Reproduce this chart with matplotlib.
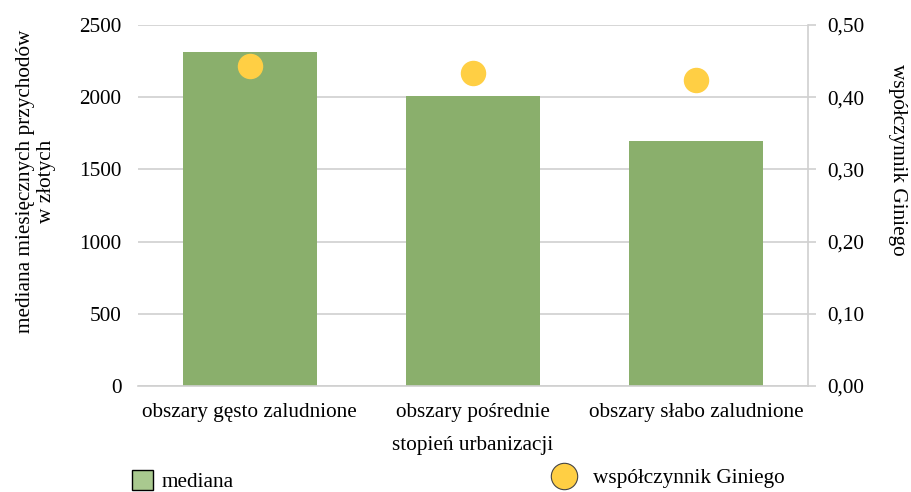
import matplotlib
matplotlib.use("Agg")
import matplotlib.pyplot as plt
from matplotlib.lines import Line2D
from matplotlib.patches import Patch

plt.rcParams['font.family'] = ['Liberation Serif', 'DejaVu Serif']

categories = ['obszary gęsto zaludnione', 'obszary pośrednie', 'obszary słabo zaludnione']
mediana = [2310, 2010, 1700]
gini = [0.443, 0.433, 0.424]
left_ticks = [0, 500, 1000, 1500, 2000, 2500]
right_ticks = [0.0, 0.1, 0.2, 0.3, 0.4, 0.5]
right_labels = ['0,00', '0,10', '0,20', '0,30', '0,40', '0,50']

grey = '#d0d0d0'
fs = 15.3

fig = plt.figure(figsize=(9.11, 4.92), dpi=100)
ax = fig.add_axes([138 / 911, 1 - 386 / 492, 670 / 911, 361 / 492])
x = range(len(categories))
ax.bar(x, mediana, width=0.6, color='#8aaf6c', zorder=2)
ax.set_xlim(-0.5, 2.5)
ax.set_ylim(0, 2500)
ax.set_yticks(left_ticks)
ax.set_xticks(list(x))
ax.set_xticklabels(categories, fontsize=fs)
ax.tick_params(axis='y', labelsize=fs, length=0, pad=12)
ax.tick_params(axis='x', length=0, pad=12)
ax.grid(axis='y', color=grey, linewidth=1.2, zorder=0)
for s in ['top', 'left', 'right']:
    ax.spines[s].set_visible(False)
ax.spines['bottom'].set_color(grey)
ax.spines['bottom'].set_linewidth(1.2)
ax.set_xlabel('stopień urbanizacji', fontsize=fs, labelpad=10)

ax2 = ax.twinx()
ax2.scatter(list(x), gini, s=300, color='#ffcf44', zorder=3)
ax2.set_ylim(0, 0.5)
ax2.set_yticks(right_ticks)
ax2.set_yticklabels(right_labels)
ax2.tick_params(axis='y', labelsize=fs, length=6, color=grey, width=1.2, pad=8)
for s in ['top', 'left', 'bottom']:
    ax2.spines[s].set_visible(False)
ax2.spines['right'].set_color(grey)
ax2.spines['right'].set_linewidth(1.2)

fig.text(36 / 911, 1 - 181 / 492, 'mediana miesięcznych przychodów\nw złotych', fontsize=fs,
         rotation=90, ha='center', va='center', multialignment='center')
fig.text(897 / 911, 1 - 160 / 492, 'współczynnik Giniego', fontsize=fs,
         rotation=270, ha='center', va='center')

h1 = Patch(facecolor='#a9c98f', edgecolor='black', linewidth=1)
h2 = Line2D([], [], marker='o', linestyle='none', markersize=19,
            markerfacecolor='#ffcf44', markeredgecolor='#444444', markeredgewidth=0.8)
fig.legend([h1], ['mediana'], loc='center left', bbox_to_anchor=(113 / 911, 1 - 481 / 492),
           frameon=False, fontsize=fs, handlelength=1.0, handleheight=1.1, handletextpad=0.4)
fig.legend([h2], ['współczynnik Giniego'], loc='center left', bbox_to_anchor=(529 / 911, 1 - 478 / 492),
           frameon=False, fontsize=fs, handlelength=1.5, handletextpad=0.6)

fig.savefig('out.png', dpi=100)
